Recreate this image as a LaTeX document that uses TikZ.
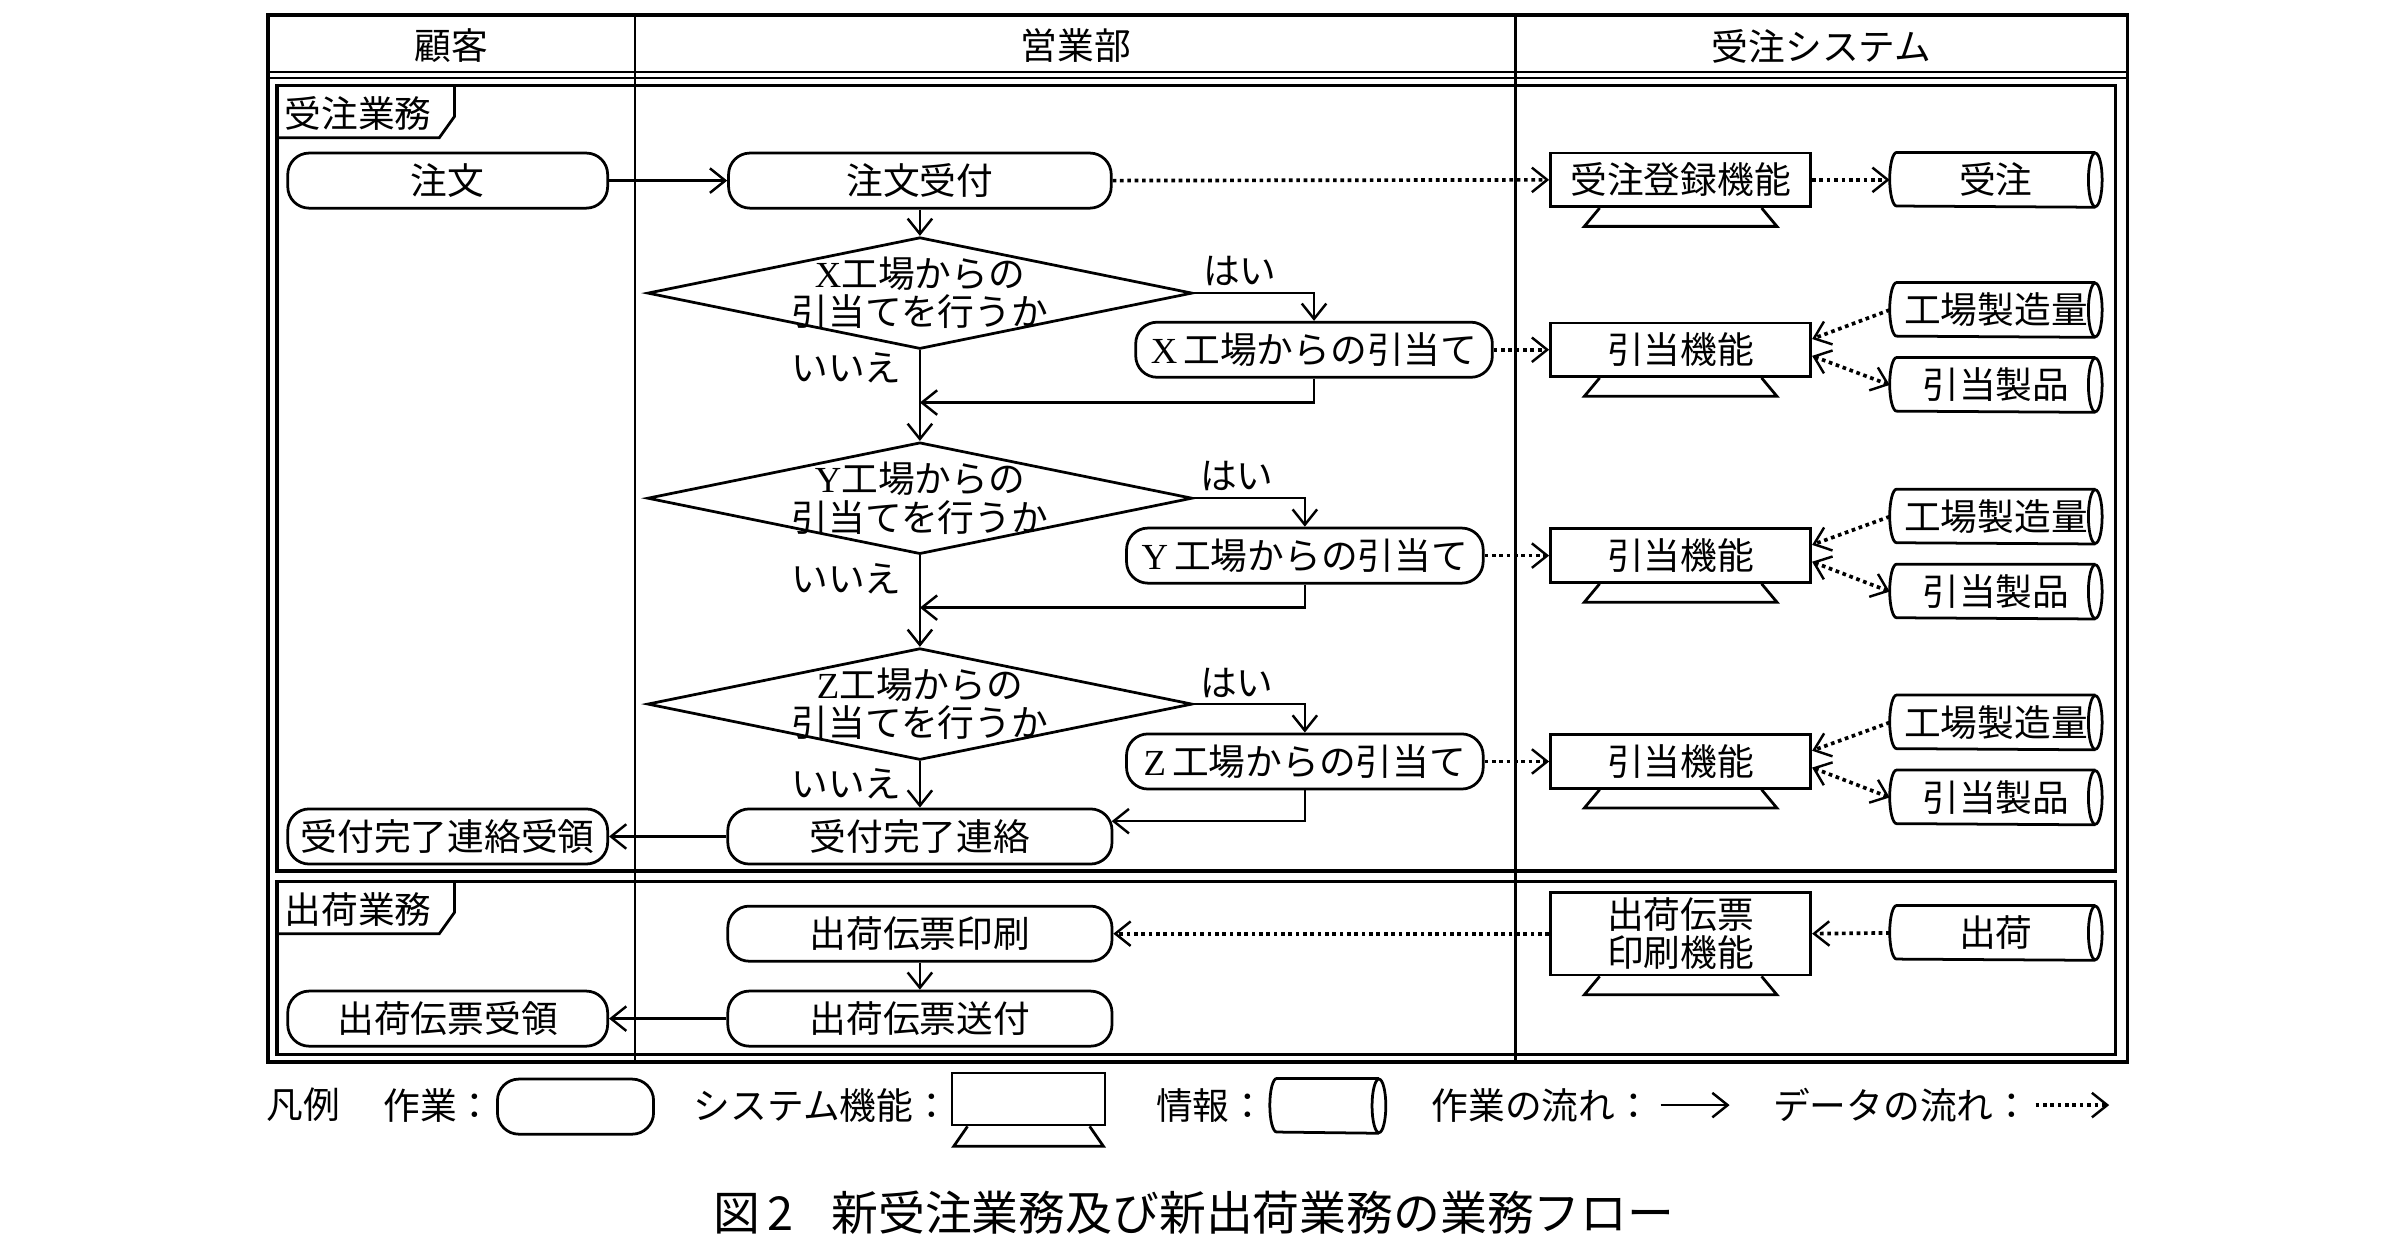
\documentclass[tikz,border=0pt]{standalone}
\usepackage{fontspec}
\setmainfont{Noto Sans CJK JP}
\newfontfamily\latf{Liberation Serif}
\usetikzlibrary{arrows.meta,shapes.geometric,calc}
\begin{document}
\begin{tikzpicture}[x=0.5pt,y=-0.5pt,
  every node/.style={font=\fontsize{12pt}{12.5pt}\selectfont},
  work/.style={draw,line width=0.9pt,rounded corners=7pt,inner sep=0pt,minimum height=18pt},
  sysbox/.style={draw,line width=0.9pt,inner sep=0pt,minimum width=85pt,minimum height=17.5pt},
  info/.style={inner sep=0pt,minimum width=69pt,minimum height=17.5pt},
  dec/.style={diamond,draw,line width=0.9pt,inner sep=0pt,minimum width=178pt,minimum height=36.5pt},
  flow/.style={line width=0.8pt,-{Straight Barb[length=5pt,width=8pt,line width=0.8pt]}},
  data/.style={line width=1.2pt,dash pattern=on 1.2pt off 1.2pt,-{Straight Barb[length=5pt,width=8pt,line width=0.8pt]}},
  datab/.style={line width=1.2pt,dash pattern=on 1.2pt off 1.2pt,{Straight Barb[length=5pt,width=8pt,line width=0.8pt]}-{Straight Barb[length=5pt,width=8pt,line width=0.8pt]}},
  lbl/.style={inner sep=0pt},
  stand/.style={line width=0.9pt},
  cyl/.style={line width=0.9pt},
]
\useasboundingbox (0,0) rectangle (1568,818);
% frames
\draw[line width=1.2pt] (175,10) rectangle (1390,694);
\draw[line width=0.9pt] (175,47) -- (1390,47);
\draw[line width=0.9pt] (175,51) -- (1390,51);
\draw[line width=0.8pt] (415,10) -- (415,694);
\draw[line width=0.8pt] (990,10) -- (990,694);
\draw[line width=1.1pt] (181,56) rectangle (1382,569);
\draw[line width=1.1pt] (181,576) rectangle (1382,689);
\draw[line width=0.9pt] (181,90) -- (287,90) -- (297,76) -- (297,56);
\draw[line width=0.9pt] (181,610) -- (287,610) -- (297,596) -- (297,576);
\node[lbl] (tag1) at (234,74) {受注業務};
\node[lbl] (tag2) at (234,594) {出荷業務};
% header
\node[lbl] (h1) at (295,30) {顧客};
\node[lbl] (h2) at (703,30) {営業部};
\node[lbl] (h3) at (1190,30) {受注システム};
% order part
\node[work,minimum width=104.5pt] (order) at (292.5,118) {注文};
\node[work,minimum width=125pt] (recv) at (601,118) {注文受付};
\node[sysbox] (reg) at (1098,117.5) {受注登録機能};
\node[info] (jc) at (1304,117.5) {受注};
% X
\node[dec] (dx) at (601,191.5) {};
\node[lbl,align=center] (dxt) at (601,191.5) {{\latf X}工場からの\\引当てを行うか};
\node[work,minimum width=116.5pt] (xb) at (858.5,228.5) {{\latf X}\,工場からの引当て};
\node[sysbox] (al1) at (1098,228.5) {引当機能};
\node[info] (fq1) at (1304,202.5) {工場製造量};
\node[info] (ap1) at (1304,251.5) {引当製品};
\coordinate (m1) at (601,263);
% Y
\node[dec] (dy) at (601,325.5) {};
\node[lbl,align=center] (dyt) at (601,325.5) {{\latf Y}工場からの\\引当てを行うか};
\node[work,minimum width=116.5pt] (yb) at (852.5,363) {{\latf Y}\,工場からの引当て};
\node[sysbox] (al2) at (1098,363) {引当機能};
\node[info] (fq2) at (1304,337.5) {工場製造量};
\node[info] (ap2) at (1304,386.5) {引当製品};
\coordinate (m2) at (601,397);
% Z
\node[dec] (dz) at (601,460) {};
\node[lbl,align=center] (dzt) at (601,460) {{\latf Z}工場からの\\引当てを行うか};
\node[work,minimum width=116.5pt] (zb) at (852.5,497.5) {{\latf Z}\,工場からの引当て};
\node[sysbox] (al3) at (1098,497.5) {引当機能};
\node[info] (fq3) at (1304,472) {工場製造量};
\node[info] (ap3) at (1304,521) {引当製品};
\node[work,minimum width=125.5pt] (ukr) at (601,546.5) {受付完了連絡};
\node[work,minimum width=104.5pt] (ukrr) at (292.5,546.5) {受付完了連絡受領};
% shipping
\node[work,minimum width=125.5pt] (sp) at (601,610) {出荷伝票印刷};
\node[sysbox,minimum height=27pt,align=center] (pf) at (1098,610) {出荷伝票\\印刷機能};
\node[info] (sh) at (1304,609.5) {出荷};
\node[work,minimum width=125.5pt] (ss) at (601,665.5) {出荷伝票送付};
\node[work,minimum width=104.5pt] (sr) at (292.5,665.5) {出荷伝票受領};
% stands
\foreach \n in {reg,al1,al2,al3,pf}
  \draw[stand] ($(\n.south west)+(33,0)$) -- ($(\n.south west)+(23,12)$) -- ($(\n.south east)+(-23,12)$) -- ($(\n.south east)+(-33,0)$);
% labels
\node[lbl] (yes1) at (810,177) {はい};
\node[lbl] (yes2) at (808,311) {はい};
\node[lbl] (yes3) at (808,446) {はい};
\node[lbl] (no1) at (553,240) {いいえ};
\node[lbl] (no2) at (553,378) {いいえ};
\node[lbl] (no3) at (553,512) {いいえ};
% legend
\node[lbl] (lg0) at (198,722) {凡例};
\node[lbl,anchor=west] (lg1) at (250,722) {作業：};
\node[work,minimum width=51pt] (lgW) at (376,723) {};
\node[lbl,anchor=west] (lg2) at (453,722) {システム機能：};
\node[draw,line width=0.9pt,minimum width=50pt,minimum height=17pt,inner sep=0pt] (lgS) at (672,718) {};
\draw[stand] ($(lgS.south west)+(11,0)$) -- ($(lgS.south west)+(2,13)$) -- ($(lgS.south east)+(-2,13)$) -- ($(lgS.south east)+(-11,0)$);
\node[lbl,anchor=west] (lg3) at (755,722) {情報：};
\node[info,minimum width=37.5pt] (lgI) at (867.5,722.5) {};
% cylinders
\foreach \n in {jc,fq1,ap1,fq2,ap2,fq3,ap3,sh,lgI}{
  \draw[cyl] ($(\n.north east)+(-4.5,0)$) -- ($(\n.north west)+(4.5,0)$)
     arc[start angle=90,end angle=270,x radius=2.25pt,y radius=8.75pt]
     -- ($(\n.south east)+(-4.5,0)$);
  \draw[cyl] ($(\n.east)+(-4.5,0)$) ellipse[x radius=2.25pt,y radius=8.75pt];
}
% connectors
\draw[flow] (order.east) -- (recv.west);
\draw[data] (recv.east) -- (reg.west);
\draw[data] (reg.east) -- (jc.west);
\draw[flow] (recv.south) -- (dx.north);
\draw[flow] (dx.east) -| (xb.north);
\draw[data] (xb.east) -- (al1.west);
\draw[flow] (xb.south) |- (m1);
\draw[flow] (dx.south) -- (dy.north);
\draw[flow] (dy.east) -| (yb.north);
\draw[data] (yb.east) -- (al2.west);
\draw[flow] (yb.south) |- (m2);
\draw[flow] (dy.south) -- (dz.north);
\draw[flow] (dz.east) -| (zb.north);
\draw[data] (zb.east) -- (al3.west);
\draw[flow] (zb.south) |- ([xshift=-0.55pt,yshift=5pt]ukr.east);
\draw[flow] (dz.south) -- (ukr.north);
\draw[flow] (ukr.west) -- (ukrr.east);
\foreach \a/\f/\p in {al1/fq1/ap1,al2/fq2/ap2,al3/fq3/ap3}{
  \draw[data] (\f.west) -- ([yshift=3.5pt]\a.east);
  \draw[datab] ([yshift=-2pt]\a.east) -- (\p.west);
}
\draw[data] (sh.west) -- (pf.east);
\draw[data] (pf.west) -- (sp.east);
\draw[flow] (sp.south) -- (ss.north);
\draw[flow] (ss.west) -- (sr.east);
% legend arrows
\node[lbl,anchor=west] (lg4) at (935,722) {作業の流れ：};
\coordinate (la1) at (1085,722);
\coordinate (la2) at (1130,722);
\draw[flow] (la1) -- (la2);
\node[lbl,anchor=west] (lg5) at (1158,722) {データの流れ：};
\coordinate (ld1) at (1330,722);
\coordinate (ld2) at (1378,722);
\draw[data] (ld1) -- (ld2);
% caption
\node[lbl,font=\fontsize{15.3pt}{16pt}\selectfont] (cap) at (780,792) {図\,2\hspace{0.8em}新受注業務及び新出荷業務の業務フロー};
\end{tikzpicture}
\end{document}
